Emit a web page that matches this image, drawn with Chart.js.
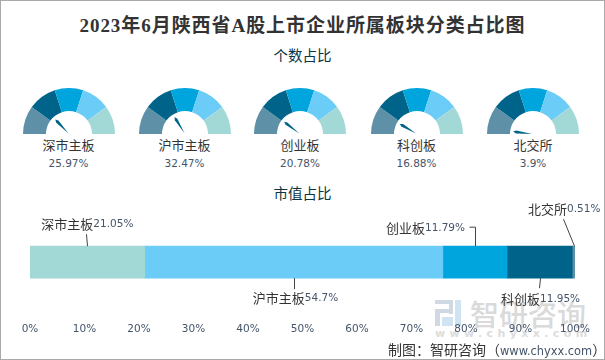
<!DOCTYPE html>
<html>
<head>
<meta charset="utf-8">
<script src="https://cdn.jsdelivr.net/npm/chart.js@4"></script>
<style>
  html, body { margin: 0; padding: 0; background: #fff; }
  #page { position: relative; width: 605px; height: 360px; box-sizing: border-box; border: 1px solid #aaa; overflow: hidden; margin: 0; text-spacing-trim: space-all; }
  #page > * { position: absolute; }
  .titulo { left: 0; width: 603px; top: 9px; text-align: center; font: bold 19px "Liberation Serif", "Noto Sans CJK SC", serif; letter-spacing: 0.95px; color: #333; white-space: nowrap; }
  .sub { left: 0; width: 603px; text-align: center; font: 14.5px "Noto Sans CJK SC", sans-serif; color: #0b3545; line-height: 20px; }
  .nombre { width: 110px; text-align: center; font: 13px "Noto Sans CJK SC", sans-serif; color: #333; line-height: 18px; }
  .pct { width: 110px; text-align: center; font: 10.5px "DejaVu Sans", sans-serif; color: #44546a; line-height: 14px; }
  .marca { left: 469px; top: 294px; font: 500 29px "Noto Sans CJK SC", sans-serif; color: #dadada; white-space: nowrap; line-height: 36px; }
  .marca2 { left: 434px; top: 326px; font: bold 11px "DejaVu Sans", sans-serif; color: #dcdcdc; white-space: nowrap; letter-spacing: 4.4px; line-height: 14px; }
  .logo { background: #d0d8e4; }
  .logo.azul { background: #cfe3f3; }
  .fuente { left: 387px; top: 338px; font: 14px "Noto Sans CJK SC", sans-serif; color: #333; white-space: nowrap; line-height: 20px; }
  .fuente span { font: 11.4px "DejaVu Sans", sans-serif; color: #44546a; }
</style>
</head>
<body>
<div id="page">
  <div class="logo" style="left:434px;top:299px;width:18px;height:4px"></div>
  <div class="logo" style="left:448px;top:299px;width:4px;height:14px"></div>
  <div class="logo" style="left:434px;top:308px;width:18px;height:4px"></div>
  <div class="logo" style="left:434px;top:308px;width:5px;height:17px"></div>
  <div class="logo azul" style="left:441px;top:316px;width:11px;height:9px"></div>
  <div class="logo azul" style="left:454px;top:299px;width:6px;height:26px"></div>
  <div class="marca">智研咨询</div>
  <div class="marca2">www.chyxx.com</div>
  <div class="titulo">2023年6月陕西省A股上市企业所属板块分类占比图</div>
  <div class="sub" style="top:44px">个数占比</div>
  <div class="sub" style="top:182px">市值占比</div>
  <canvas id="graficoBarra" style="left:-1px;top:179px" width="605" height="170"></canvas>
  <div class="fuente">制图&#xFF1A;智研咨询&#xFF08;<span>www.chyxx.com</span>&#xFF09;</div>
</div>
<script>
const categorias = ['深市主板', '沪市主板', '创业板', '科创板', '北交所'];
const cantidadPct = [25.97, 32.47, 20.78, 16.88, 3.9];
const valorPct = [21.05, 54.7, 11.79, 11.95, 0.51];
const tramosGauge = [1, 1, 1, 1, 1];
const colores = ['#A2D9D6', '#6BCDF7', '#00A5DE', '#00648A', '#5E90A8'];

const pagina = document.getElementById('page');
const centrosGauge = [68.5, 184.5, 300, 416.5, 533];
const radio = 46, baseGauge = 134;

// aguja de cada gauge, sale del centro del arco segun el porcentaje
const aguja = {
  id: 'aguja',
  afterDatasetsDraw(chart, args, opts) {
    const arco = chart.getDatasetMeta(0).data[0];
    const ang = Math.PI + opts.valor / 100 * Math.PI;
    const ctx = chart.ctx;
    ctx.save();
    ctx.translate(arco.x, arco.y);
    ctx.rotate(ang);
    ctx.fillStyle = '#00648A';
    ctx.beginPath();
    ctx.moveTo(1, 0);
    ctx.lineTo(17, -1.5);
    ctx.lineTo(20, 0);
    ctx.lineTo(17, 1.5);
    ctx.closePath();
    ctx.fill();
    ctx.restore();
  }
};

categorias.forEach((nombre, i) => {
  const cv = document.createElement('canvas');
  cv.width = radio * 2;
  cv.height = radio;
  cv.style.left = (centrosGauge[i] - radio - 1) + 'px';
  cv.style.top = (baseGauge - radio - 1) + 'px';
  pagina.appendChild(cv);

  new Chart(cv, {
    type: 'doughnut',
    data: {
      labels: tramosGauge.map((t, k) => 'tramo ' + (k + 1)),
      datasets: [{
        data: tramosGauge,
        backgroundColor: colores.slice().reverse(),
        borderWidth: 0
      }]
    },
    options: {
      responsive: false,
      animation: false,
      rotation: -90,
      circumference: 180,
      cutout: '50%',
      events: [],
      plugins: {
        legend: { display: false },
        title: { display: false },
        tooltip: { enabled: false },
        aguja: { valor: cantidadPct[i] }
      }
    },
    plugins: [aguja]
  });

  const n = document.createElement('div');
  n.className = 'nombre';
  n.textContent = nombre;
  n.style.left = (centrosGauge[i] - 56) + 'px';
  n.style.top = '135px';
  pagina.appendChild(n);

  const p = document.createElement('div');
  p.className = 'pct';
  p.textContent = cantidadPct[i] + '%';
  p.style.left = (centrosGauge[i] - 56) + 'px';
  p.style.top = '155px';
  pagina.appendChild(p);
});

// etiquetas con linea guia de la barra apilada
const guias = [
  { lado: 'arriba', puntaX: -1, puntaY: -12, textoX: -46, textoY: -22, quiebre: 0 },
  { lado: 'abajo', puntaX: 0, puntaY: 11, textoX: -41, textoY: 20, quiebre: 0 },
  { lado: 'arriba', puntaX: 0, puntaY: -19, textoX: -89, textoY: -18, quiebre: -6 },
  { lado: 'abajo', puntaX: -1, puntaY: 10, textoX: -38.6, textoY: 21, quiebre: 0 },
  { lado: 'arriba', puntaX: -11, puntaY: -27, textoX: -45.6, textoY: -37, quiebre: 0 }
];

const etiquetas = {
  id: 'etiquetas',
  afterDraw(chart) {
    const ctx = chart.ctx;
    const meta = chart.getDatasetMeta(0).data[0];
    const x = chart.scales.x;
    const arriba = meta.y - meta.height / 2;
    const abajo = meta.y + meta.height / 2;
    let acum = 0;
    valorPct.forEach((v, i) => {
      const medio = x.getPixelForValue(acum + v / 2);
      acum += v;
      const g = guias[i];
      const y0 = g.lado === 'arriba' ? arriba : abajo;
      ctx.save();
      ctx.strokeStyle = '#444';
      ctx.lineWidth = 1;
      ctx.beginPath();
      ctx.moveTo(Math.round(medio) + 0.5, y0);
      ctx.lineTo(Math.round(medio) + g.puntaX + 0.5, y0 + g.puntaY);
      if (g.quiebre) ctx.lineTo(Math.round(medio) + g.puntaX + g.quiebre + 0.5, y0 + g.puntaY);
      ctx.stroke();
      ctx.textBaseline = 'middle';
      ctx.fillStyle = '#333';
      ctx.font = '13px "Noto Sans CJK SC", sans-serif';
      const tx = medio + g.textoX, ty = y0 + g.textoY;
      ctx.fillText(categorias[i], tx, ty);
      const ancho = ctx.measureText(categorias[i]).width;
      ctx.fillStyle = '#44546a';
      ctx.font = '10.5px "DejaVu Sans", sans-serif';
      ctx.fillText(v + '%', tx + ancho, ty);
      ctx.restore();
    });
  }
};

new Chart(document.getElementById('graficoBarra'), {
  type: 'bar',
  data: {
    labels: ['市值占比'],
    datasets: categorias.map((c, i) => ({
      label: c,
      data: [valorPct[i]],
      backgroundColor: colores[i],
      barThickness: 32,
      borderWidth: 0
    }))
  },
  options: {
    indexAxis: 'y',
    responsive: false,
    animation: false,
    events: [],
    layout: { padding: { left: 30, right: 30, top: 37, bottom: 6 } },
    plugins: {
      legend: { display: false },
      title: { display: false },
      tooltip: { enabled: false }
    },
    scales: {
      x: {
        stacked: true,
        min: 0,
        max: 100,
        grid: { display: false },
        border: { display: false },
        ticks: {
          stepSize: 10,
          maxRotation: 0,
          autoSkip: false,
          padding: 8,
          color: '#44546a',
          font: { family: '"DejaVu Sans", sans-serif', size: 10.5 },
          callback: v => v + '%'
        }
      },
      y: {
        stacked: true,
        display: false
      }
    }
  },
  plugins: [etiquetas]
});
</script>
</body>
</html>
